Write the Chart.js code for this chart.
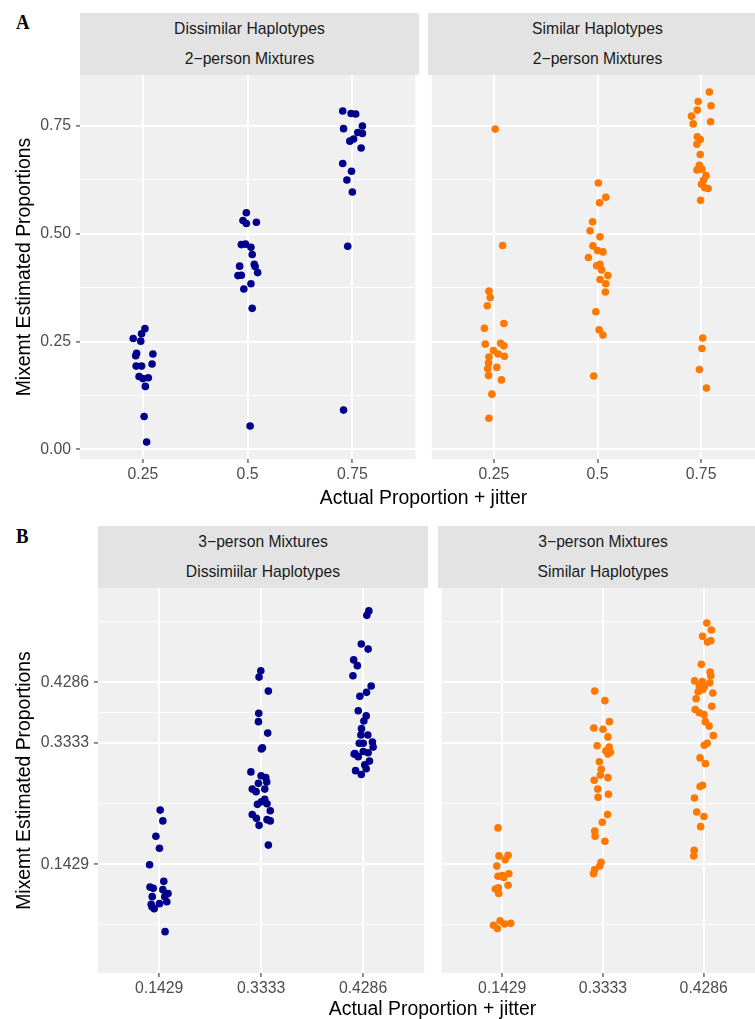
<!DOCTYPE html>
<html>
<head>
<meta charset="utf-8">
<script src="https://cdn.jsdelivr.net/npm/chart.js@4.4.1/dist/chart.umd.min.js"></script>
<style>
  html, body { margin: 0; padding: 0; background: #fff; overflow: hidden; }
  #fig { position: relative; width: 755px; height: 1019px; overflow: hidden; font-family: 'Liberation Sans', Arial, sans-serif; }
  #fig canvas { position: absolute; }
  .tag { position: absolute; font-family: 'Liberation Serif', serif; font-weight: bold; font-size: 22px; line-height: 22px; color: #000; transform: scaleX(0.85); transform-origin: left top; }
  .strip { position: absolute; height: 62px; background: #E3E3E3; }
  .strip div { position: absolute; left: 0; right: 0; text-align: center; font-size: 15.7px; line-height: 20px; color: #1A1A1A; white-space: nowrap; }
  .xtitle { position: absolute; font-size: 19.4px; line-height: 24px; color: #000; white-space: nowrap; transform: translateX(-50%); }
</style>
</head>
<body>
<div id="fig">
  <div class="tag" style="left:16px;top:11px">A</div>
  <div class="strip" style="left:80px;top:13px;width:339px"><div style="top:6px">Dissimilar Haplotypes</div><div style="top:36px">2−person Mixtures</div></div>
  <div class="strip" style="left:428px;top:13px;width:339px"><div style="top:6px">Similar Haplotypes</div><div style="top:36px">2−person Mixtures</div></div>
  <canvas id="dissim2" width="419" height="434" style="left:0;top:55px"></canvas>
  <canvas id="sim2" width="339" height="434" style="left:428px;top:55px"></canvas>
  <div class="xtitle" style="left:423.5px;top:485px">Actual Proportion + jitter</div>

  <div class="tag" style="left:16px;top:525px">B</div>
  <div class="strip" style="left:98px;top:526px;width:330px"><div style="top:6px">3−person Mixtures</div><div style="top:36px">Dissimiilar Haplotypes</div></div>
  <div class="strip" style="left:438px;top:526px;width:330px"><div style="top:6px">3−person Mixtures</div><div style="top:36px">Similar Haplotypes</div></div>
  <canvas id="dissim3" width="428" height="435" style="left:0;top:568px"></canvas>
  <canvas id="sim3" width="330" height="435" style="left:438px;top:568px"></canvas>
  <div class="xtitle" style="left:432.5px;top:996px">Actual Proportion + jitter</div>
</div>

<script>
// 2-person mixtures: actual proportion + jitter, Mixemt estimated proportion
const dissim2Actual = [
  0.255, 0.247, 0.227, 0.245, 0.235, 0.233, 0.274, 0.272, 0.234, 0.247, 0.241, 0.250, 0.263, 0.256, 0.253, 0.259,
  0.497, 0.489, 0.497, 0.521, 0.485, 0.495, 0.508, 0.511, 0.481, 0.516, 0.518, 0.477, 0.485, 0.524, 0.508, 0.491, 0.511, 0.506,
  0.727, 0.747, 0.758, 0.729, 0.774, 0.763, 0.774, 0.744, 0.753, 0.771, 0.727, 0.748, 0.737, 0.750, 0.739, 0.729
];
const dissim2Estimate = [
  0.280, 0.268, 0.257, 0.251, 0.223, 0.217, 0.221, 0.198, 0.193, 0.193, 0.169, 0.164, 0.166, 0.146, 0.076, 0.017,
  0.549, 0.531, 0.524, 0.527, 0.475, 0.476, 0.469, 0.452, 0.425, 0.429, 0.424, 0.403, 0.404, 0.410, 0.384, 0.372, 0.327, 0.054,
  0.785, 0.779, 0.778, 0.744, 0.750, 0.735, 0.733, 0.715, 0.720, 0.699, 0.663, 0.645, 0.625, 0.597, 0.471, 0.091
];
const sim2Actual = [
  0.253, 0.271, 0.238, 0.241, 0.234, 0.227, 0.274, 0.229, 0.266, 0.274, 0.249, 0.260, 0.275, 0.238, 0.237, 0.235, 0.257, 0.237, 0.268, 0.245, 0.238,
  0.502, 0.520, 0.505, 0.488, 0.482, 0.506, 0.489, 0.500, 0.513, 0.478, 0.498, 0.506, 0.510, 0.525, 0.506, 0.520, 0.519, 0.496, 0.504, 0.513, 0.491,
  0.770, 0.743, 0.774, 0.741, 0.727, 0.731, 0.773, 0.741, 0.748, 0.740, 0.748, 0.746, 0.740, 0.752, 0.762, 0.756, 0.751, 0.759, 0.767, 0.749, 0.754, 0.752, 0.746, 0.763
];
const sim2Estimate = [
  0.743, 0.473, 0.367, 0.352, 0.333, 0.281, 0.292, 0.244, 0.246, 0.240, 0.229, 0.221, 0.216, 0.214, 0.200, 0.187, 0.190, 0.171, 0.161, 0.128, 0.072,
  0.618, 0.585, 0.572, 0.528, 0.507, 0.493, 0.472, 0.461, 0.458, 0.445, 0.426, 0.429, 0.416, 0.403, 0.394, 0.384, 0.365, 0.319, 0.277, 0.265, 0.170,
  0.829, 0.807, 0.797, 0.787, 0.773, 0.755, 0.760, 0.725, 0.719, 0.708, 0.684, 0.659, 0.648, 0.650, 0.635, 0.625, 0.615, 0.607, 0.605, 0.578, 0.258, 0.234, 0.185, 0.142
];

// 3-person mixtures: x is the level position (1..3) plus jitter
const mix3Levels = ['0.1429', '0.3333', '0.4286'];
const dissim3Position = [
  1.010, 1.036, 0.968, 1.003, 0.906, 1.045, 0.910, 0.942, 1.036, 1.087, 0.932, 1.055, 0.922, 1.003, 1.075, 0.951, 0.930, 1.058,
  1.997, 1.980, 2.071, 1.977, 1.974, 2.065, 2.013, 2.003, 1.900, 2.000, 2.046, 2.055, 1.974, 1.913, 1.951, 2.036, 2.036, 2.003,
  1.964, 2.058, 2.090, 1.913, 1.954, 2.058, 2.090, 1.980, 2.071,
  3.057, 3.037, 2.983, 3.050, 2.908, 2.944, 2.901, 3.080, 3.034, 2.969, 2.953, 3.031, 3.008, 2.985, 2.979, 3.047, 2.963, 3.002,
  3.092, 3.099, 2.920, 3.002, 3.050, 2.953, 3.063, 3.017, 3.031, 2.927, 2.983, 2.913
];
const dissim3Estimate = [
  0.228, 0.211, 0.187, 0.168, 0.142, 0.116, 0.107, 0.105, 0.103, 0.097, 0.092, 0.092, 0.080, 0.081, 0.084, 0.073, 0.076, 0.037,
  0.447, 0.437, 0.415, 0.380, 0.367, 0.349, 0.326, 0.324, 0.288, 0.282, 0.279, 0.272, 0.270, 0.261, 0.257, 0.261, 0.245, 0.241,
  0.237, 0.238, 0.227, 0.221, 0.215, 0.213, 0.211, 0.204, 0.173,
  0.541, 0.534, 0.489, 0.481, 0.464, 0.455, 0.439, 0.423, 0.413, 0.407, 0.384, 0.376, 0.368, 0.356, 0.346, 0.346, 0.333, 0.333,
  0.335, 0.327, 0.317, 0.320, 0.318, 0.312, 0.305, 0.299, 0.293, 0.290, 0.284, 0.316
];
const sim3Position = [
  0.958, 0.968, 1.058, 1.029, 0.946, 0.958, 1.000, 1.014, 1.065, 1.058, 0.932, 0.961, 0.965, 0.913, 0.951, 0.978, 1.023, 1.084,
  1.918, 2.019, 2.064, 1.909, 2.000, 2.049, 1.942, 2.061, 2.029, 2.074, 2.049, 1.964, 1.983, 1.974, 2.049, 1.913, 1.948, 2.054,
  1.951, 2.045, 1.993, 1.918, 1.922, 2.019, 1.981, 1.967, 1.916, 1.906,
  3.030, 3.076, 2.988, 3.037, 3.070, 2.976, 3.063, 3.070, 2.910, 2.985, 3.060, 2.956, 3.005, 2.944, 3.090, 2.988, 2.924, 3.080,
  2.915, 2.956, 3.002, 3.015, 3.053, 3.095, 3.005, 3.034, 2.963, 3.017, 2.963, 2.988, 2.908, 2.930, 3.002, 2.969, 2.905, 2.901
];
const sim3Estimate = [
  0.200, 0.156, 0.157, 0.150, 0.140, 0.124, 0.125, 0.122, 0.128, 0.110, 0.104, 0.106, 0.097, 0.047, 0.042, 0.054, 0.049, 0.050,
  0.415, 0.400, 0.367, 0.357, 0.355, 0.343, 0.329, 0.327, 0.321, 0.319, 0.316, 0.304, 0.292, 0.283, 0.279, 0.275, 0.261, 0.253,
  0.248, 0.221, 0.209, 0.195, 0.187, 0.179, 0.146, 0.140, 0.134, 0.128,
  0.522, 0.511, 0.501, 0.492, 0.494, 0.457, 0.445, 0.439, 0.431, 0.430, 0.428, 0.423, 0.421, 0.414, 0.412, 0.417, 0.403, 0.391,
  0.386, 0.381, 0.378, 0.367, 0.360, 0.345, 0.330, 0.333, 0.310, 0.301, 0.265, 0.267, 0.247, 0.225, 0.218, 0.202, 0.165, 0.156
];

// axis breaks
const prop2Breaks = [0.25, 0.5, 0.75];
const prop2BreakLabels = ['0.25', '0.5', '0.75'];
const est2Breaks = [0, 0.25, 0.5, 0.75];
const est2BreakLabels = ['0.00', '0.25', '0.50', '0.75'];
const est2Minor = [0.125, 0.375, 0.625];
const mix3Breaks = [1, 2, 3];
const est3Breaks = [0.1429, 0.3333, 0.4286];
const est3Minor = [0.0477, 0.2381, 0.3810, 0.5238];

const blue = '#00008B';
const orange = '#FF7800';
const tickFont = { family: 'Liberation Sans, Arial, sans-serif', size: 15.8 };
const titleFont = { family: 'Liberation Sans, Arial, sans-serif', size: 19.4 };

const panelBackground = {
    id: 'panelBackground',
    beforeDraw(chart) {
        const a = chart.chartArea;
        const ctx = chart.ctx;
        ctx.save();
        ctx.fillStyle = '#F0F0F0';
        ctx.fillRect(a.left, a.top, a.right - a.left, a.bottom - a.top);
        ctx.restore();
    }
};

function tickList(major, labels, minor) {
    const ticks = major.map((v, i) => ({ value: v, major: true, text: labels[i] }));
    (minor || []).forEach(v => ticks.push({ value: v, major: false, text: '' }));
    return ticks.sort((a, b) => a.value - b.value);
}

function drawPanel(id, xs, ys, color, ax) {
    const points = xs.map((x, i) => ({ x: x, y: ys[i] }));
    const xTicks = tickList(ax.xBreaks, ax.xLabels);
    const yTicks = tickList(ax.yBreaks, ax.yLabels, ax.yMinor);

    return new Chart(document.getElementById(id), {
        type: 'scatter',
        data: {
            datasets: [{
                data: points,
                backgroundColor: color,
                borderWidth: 0,
                pointRadius: 3.8,
                pointHoverRadius: 3.8
            }]
        },
        options: {
            responsive: false,
            animation: false,
            events: [],
            layout: { padding: { top: 20, left: 0, right: 0, bottom: 0 } },
            plugins: { legend: { display: false }, tooltip: { enabled: false } },
            scales: {
                x: {
                    type: 'linear',
                    min: ax.xMin,
                    max: ax.xMax,
                    afterBuildTicks: axis => { axis.ticks = xTicks.map(t => ({ value: t.value, major: true, text: t.text })); },
                    afterFit: axis => { axis.height = 30; },
                    ticks: {
                        callback: (v, i, ticks) => ticks[i].text,
                        color: '#4D4D4D',
                        font: tickFont,
                        padding: 2,
                        maxRotation: 0,
                        autoSkip: false
                    },
                    grid: { color: '#FFFFFF', lineWidth: 1.9, tickLength: 4, tickColor: '#333333', tickWidth: 1.1 },
                    border: { display: false }
                },
                y: {
                    type: 'linear',
                    min: ax.yMin,
                    max: ax.yMax,
                    afterBuildTicks: axis => { axis.ticks = yTicks.map(t => ({ value: t.value, major: t.major, text: t.text })); },
                    afterFit: axis => { axis.width = ax.yWidth; },
                    ticks: {
                        display: ax.showY,
                        callback: (v, i, ticks) => ticks[i].text,
                        color: '#4D4D4D',
                        font: tickFont,
                        padding: 5,
                        autoSkip: false
                    },
                    grid: {
                        color: '#FFFFFF',
                        lineWidth: ctx => (ctx.tick && ctx.tick.major ? 1.9 : 0.95),
                        drawTicks: ax.showY,
                        tickLength: 4,
                        tickColor: ctx => (ctx.tick && ctx.tick.major ? '#333333' : 'rgba(0,0,0,0)'),
                        tickWidth: 1.1
                    },
                    border: { display: false },
                    title: {
                        display: ax.showY,
                        text: 'Mixemt Estimated Proportions',
                        color: '#000000',
                        font: titleFont,
                        padding: { top: 13.4, bottom: 0 }
                    }
                }
            }
        },
        plugins: [panelBackground]
    });
}

const axes2 = {
    xMin: 0.1, xMax: 0.9, xBreaks: prop2Breaks, xLabels: prop2BreakLabels,
    yMin: -0.0225, yMax: 0.8685, yBreaks: est2Breaks, yLabels: est2BreakLabels, yMinor: est2Minor
};
const axes3 = {
    xMin: 0.4, xMax: 3.6, xBreaks: mix3Breaks, xLabels: mix3Levels,
    yMin: -0.028, yMax: 0.577, yBreaks: est3Breaks, yLabels: mix3Levels, yMinor: est3Minor
};

drawPanel('dissim2', dissim2Actual, dissim2Estimate, blue, Object.assign({}, axes2, { showY: true, yWidth: 80 }));
drawPanel('sim2', sim2Actual, sim2Estimate, orange, Object.assign({}, axes2, { showY: false, yWidth: 0 }));
drawPanel('dissim3', dissim3Position, dissim3Estimate, blue, Object.assign({}, axes3, { showY: true, yWidth: 98 }));
drawPanel('sim3', sim3Position, sim3Estimate, orange, Object.assign({}, axes3, { showY: false, yWidth: 0 }));
</script>
</body>
</html>
